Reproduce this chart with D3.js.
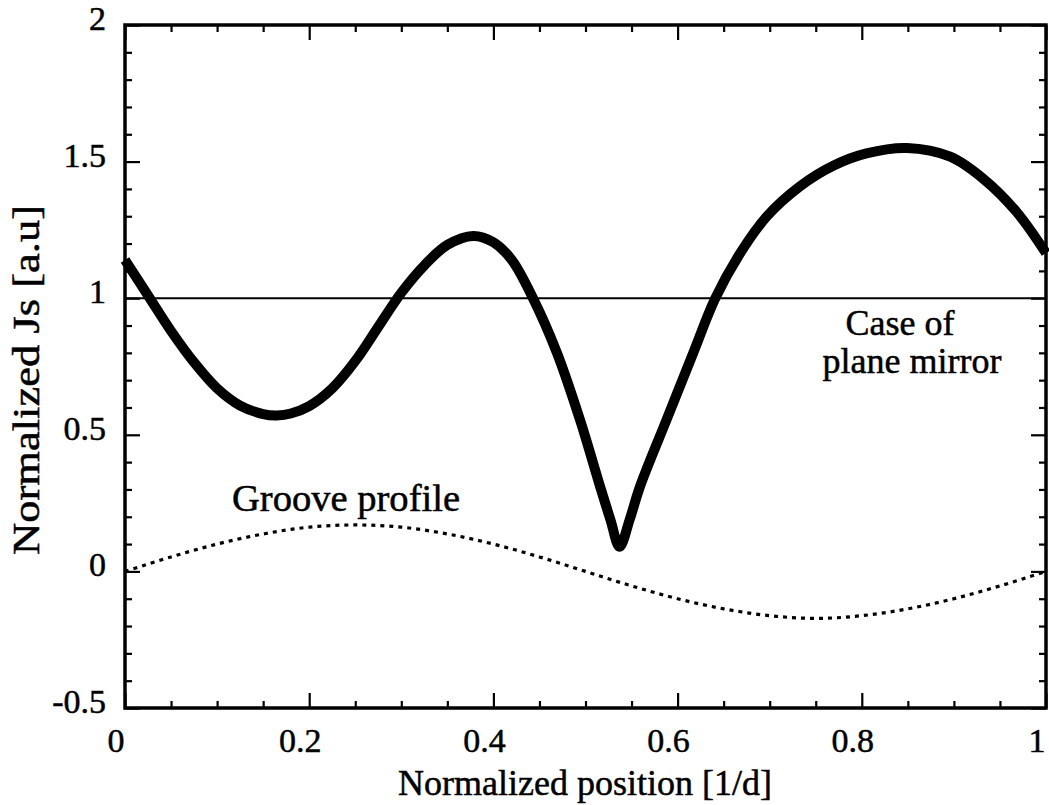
<!DOCTYPE html>
<html><head><meta charset="utf-8">
<script src="https://cdn.jsdelivr.net/npm/d3@7"></script>
<style>
html,body{margin:0;padding:0;background:#fff;}
svg{display:block;}
text{font-family:"Liberation Serif","Times New Roman",serif;fill:#000;stroke:#000;stroke-width:0.5px;}
</style></head>
<body>
<svg id="chart" width="1049" height="805"></svg>
<script>
// ---- data ----
const jsX = [0, 0.025, 0.05, 0.075, 0.1, 0.125, 0.15, 0.165, 0.18, 0.2, 0.225, 0.25, 0.275, 0.3, 0.325, 0.35, 0.378, 0.4, 0.42, 0.443, 0.469, 0.494, 0.516, 0.527, 0.537, 0.548, 0.559, 0.588, 0.617, 0.641, 0.668, 0.697, 0.733, 0.769, 0.805, 0.849, 0.896, 0.932, 0.968, 1.0];
const jsY = [1.14, 1.01, 0.88, 0.765, 0.67, 0.607, 0.576, 0.571, 0.578, 0.605, 0.67, 0.77, 0.895, 1.02, 1.12, 1.195, 1.228, 1.205, 1.14, 1.0, 0.80, 0.555, 0.309, 0.19, 0.09, 0.19, 0.309, 0.555, 0.80, 1.0, 1.165, 1.30, 1.41, 1.485, 1.53, 1.55, 1.518, 1.437, 1.316, 1.165];
const grooveX = [0, 0.05, 0.1, 0.15, 0.2, 0.25, 0.3, 0.35, 0.4, 0.45, 0.5, 0.55, 0.6, 0.65, 0.7, 0.75, 0.8, 0.85, 0.9, 0.95, 1.0];
const grooveY = [0, 0.053, 0.1, 0.137, 0.162, 0.17, 0.162, 0.137, 0.1, 0.053, 0, -0.053, -0.1, -0.137, -0.162, -0.172, -0.162, -0.137, -0.1, -0.053, 0];
const planeY = 1;
const xMajor = [0, 0.2, 0.4, 0.6, 0.8, 1];
const xMajorLabels = ["0", "0.2", "0.4", "0.6", "0.8", "1"];
const yMajor = [-0.5, 0, 0.5, 1, 1.5, 2];
const yMajorLabels = ["-0.5", "0", "0.5", "1", "1.5", "2"];
const xMinorStep = 0.05, yMinorStep = 0.1;

// ---- layout ----
const L = 125, R = 1046, T = 25, B = 708;
const x = d3.scaleLinear().domain([0, 1]).range([L, R]);
const y = d3.scaleLinear().domain([-0.5, 2]).range([B, T]);
const svg = d3.select("#chart");

const xMinor = d3.range(0, 1 + 1e-9, xMinorStep).filter(v => !xMajor.some(m => Math.abs(m - v) < 1e-6));
const yMinor = d3.range(-0.5, 2 + 1e-9, yMinorStep).filter(v => !yMajor.some(m => Math.abs(m - v) < 1e-6));

const MAJ = 15, MIN = 7;
function addAxis(axisGen, tx, ty, len, vals) {
  const g = svg.append("g").attr("transform", `translate(${tx},${ty})`)
    .call(axisGen.tickValues(vals).tickSize(len).tickFormat(""));
  g.select(".domain").remove();
  g.selectAll(".tick line").attr("stroke", "#000").attr("stroke-width", 2.2);
  return g;
}
addAxis(d3.axisTop(x), 0, B, MAJ, xMajor);
addAxis(d3.axisTop(x), 0, B, MIN, xMinor);
addAxis(d3.axisBottom(x), 0, T, MAJ, xMajor);
addAxis(d3.axisBottom(x), 0, T, MIN, xMinor);
addAxis(d3.axisRight(y), L, 0, MAJ, yMajor);
addAxis(d3.axisRight(y), L, 0, MIN, yMinor);
addAxis(d3.axisLeft(y), R, 0, MAJ, yMajor);
addAxis(d3.axisLeft(y), R, 0, MIN, yMinor);

// tick labels
svg.append("g").selectAll("text").data(xMajor).join("text")
  .attr("x", d => x(d) - 9).attr("y", 752)
  .attr("text-anchor", "middle").attr("font-size", 34)
  .text((d, i) => xMajorLabels[i]);
svg.append("g").selectAll("text").data(yMajor).join("text")
  .attr("x", 106).attr("y", d => y(d) + 5)
  .attr("text-anchor", "end").attr("font-size", 34)
  .text((d, i) => yMajorLabels[i]);

// plane mirror line
svg.append("line").attr("x1", x(0)).attr("x2", x(1)).attr("y1", y(planeY)).attr("y2", y(planeY))
  .attr("stroke", "#000").attr("stroke-width", 2);

// groove profile (dotted)
svg.append("path")
  .datum(grooveX.map((v, i) => [v, grooveY[i]]))
  .attr("d", d3.line().x(d => x(d[0])).y(d => y(d[1])).curve(d3.curveCatmullRom))
  .attr("fill", "none").attr("stroke", "#000").attr("stroke-width", 3.2)
  .attr("stroke-dasharray", "4,5");

// Js curve
svg.append("path")
  .datum(jsX.map((v, i) => [v, jsY[i]]))
  .attr("d", d3.line().x(d => x(d[0])).y(d => y(d[1])).curve(d3.curveCatmullRom.alpha(0.5)))
  .attr("fill", "none").attr("stroke", "#000").attr("stroke-width", 10)
  .attr("stroke-linejoin", "round");

// frame
svg.append("rect").attr("x", L).attr("y", T).attr("width", R - L).attr("height", B - T)
  .attr("fill", "none").attr("stroke", "#000").attr("stroke-width", 3.5);

// annotations
svg.append("text").attr("x", 232).attr("y", 511).attr("font-size", 37)
  .attr("textLength", 228).attr("lengthAdjust", "spacingAndGlyphs").text("Groove profile");
svg.append("text").attr("x", 900).attr("y", 335).attr("text-anchor", "middle").attr("font-size", 36).text("Case of");
svg.append("text").attr("x", 912).attr("y", 373).attr("text-anchor", "middle").attr("font-size", 36).text("plane mirror");

// axis titles
svg.append("text").attr("x", 585).attr("y", 795).attr("text-anchor", "middle").attr("font-size", 36)
  .text("Normalized position [1/d]");
svg.append("text").attr("transform", "translate(39,380) rotate(-90)").attr("text-anchor", "middle")
  .attr("font-size", 38).attr("textLength", 350).attr("lengthAdjust", "spacingAndGlyphs")
  .text("Normalized Js [a.u]");
</script>
</body></html>
